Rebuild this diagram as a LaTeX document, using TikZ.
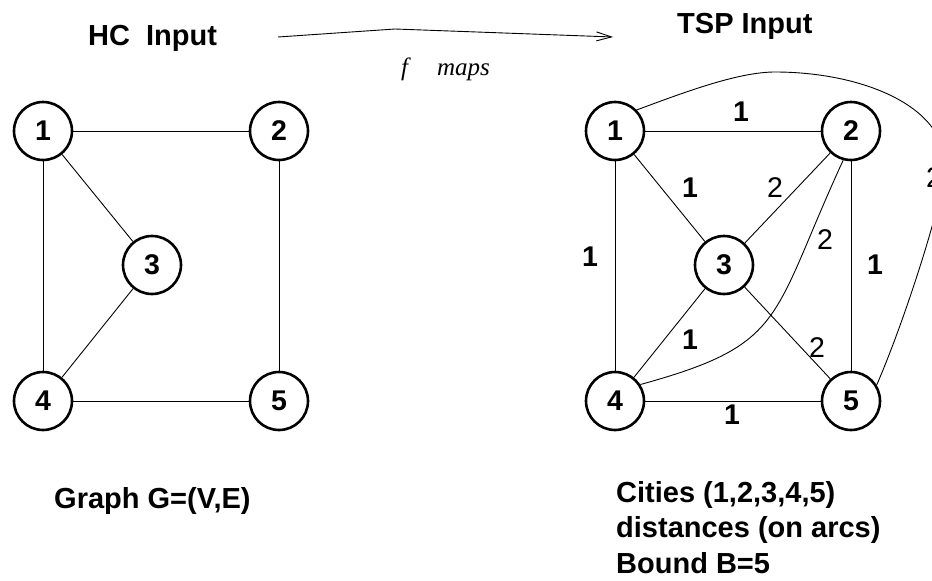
\documentclass[tikz,border=0pt]{standalone}
\usepackage{fontspec}
\setmainfont{Liberation Sans}
\newfontfamily\serifit{Liberation Serif}
\usetikzlibrary{arrows.meta}
\tikzset{
  vertex/.style={draw,circle,line width=2.6pt,minimum size=58pt,inner sep=0pt,
    font=\fontsize{28.5}{28.5}\selectfont\bfseries},
  link/.style={line width=0.9pt},
  wbold/.style={inner sep=0pt,font=\fontsize{28.5}{28.5}\selectfont\bfseries},
  wplain/.style={inner sep=0pt,font=\fontsize{28.5}{28.5}\selectfont},
  heading/.style={inner sep=0pt,anchor=base west,
    font=\fontsize{29}{35.5}\selectfont\bfseries},
  maparrow/.style={line width=0.9pt,-{Straight Barb[length=15pt,width=9pt]}}
}

\begin{document}
\begin{tikzpicture}[x=1pt,y=-1pt]
\useasboundingbox (0,0) rectangle (932,581);
% titles
\node[heading] (hc) at (88,45) {HC\ \ Input};
\node[heading] (tsp) at (677,33) {TSP Input};
\coordinate (mapstart) at (278,37);
\coordinate (mapbend) at (395,29);
\coordinate (mapend) at (613,37);
\draw[maparrow] (mapstart) -- (mapbend) -- (mapend);
\node[inner sep=0pt,anchor=base west,font=\serifit\itshape\fontsize{25}{25}\selectfont]
  (fmaps) at (401,75) {f\hspace{29pt}maps};
% HC graph
\node[vertex] (a1) at (43,131) {1};
\node[vertex] (a2) at (279,131) {2};
\node[vertex] (a3) at (152,265) {3};
\node[vertex] (a4) at (43,401) {4};
\node[vertex] (a5) at (279,401) {5};
\draw[link] (a1)--(a2); \draw[link] (a1)--(a4); \draw[link] (a1)--(a3);
\draw[link] (a3)--(a4); \draw[link] (a2)--(a5); \draw[link] (a4)--(a5);
\node[heading] (graph) at (54,508) {Graph G=(V,E)};
% TSP graph
\node[vertex] (b1) at (615,131) {1};
\node[vertex] (b2) at (851,131) {2};
\node[vertex] (b3) at (724,265) {3};
\node[vertex] (b4) at (615,401) {4};
\node[vertex] (b5) at (851,401) {5};
\draw[link] (b1)--(b2); \draw[link] (b1)--(b4); \draw[link] (b1)--(b3);
\draw[link] (b3)--(b2); \draw[link] (b2)--(b5); \draw[link] (b3)--(b4);
\draw[link] (b3)--(b5); \draw[link] (b4)--(b5);
\draw[link] (b4.33) .. controls (788,344) and (770,319) .. (b2.255);
\draw[link] (b1.44) .. controls (690,90) and (740,72) .. (775,72)
  .. controls (860,72) and (945,105) .. (945,165)
  .. controls (945,195) and (905,320) .. (b5.32);
% distances
\node[wbold] (w12) at (741,112) {1};
\node[wbold] (w13) at (690,188) {1};
\node[wplain] (w23) at (775,188) {2};
\node[wplain] (w24) at (825,240) {2};
\node[wbold] (w25) at (875,265) {1};
\node[wbold] (w14) at (590,257) {1};
\node[wbold] (w34) at (690,340) {1};
\node[wplain] (w35) at (817,348) {2};
\node[wbold] (w45) at (732,415) {1};
\node[wplain] (w15) at (934,178) {2};
\node[heading,align=left] (cities) at (616,573)
  {Cities (1,2,3,4,5)\\distances (on arcs)\\Bound B=5};
\end{tikzpicture}
\end{document}
